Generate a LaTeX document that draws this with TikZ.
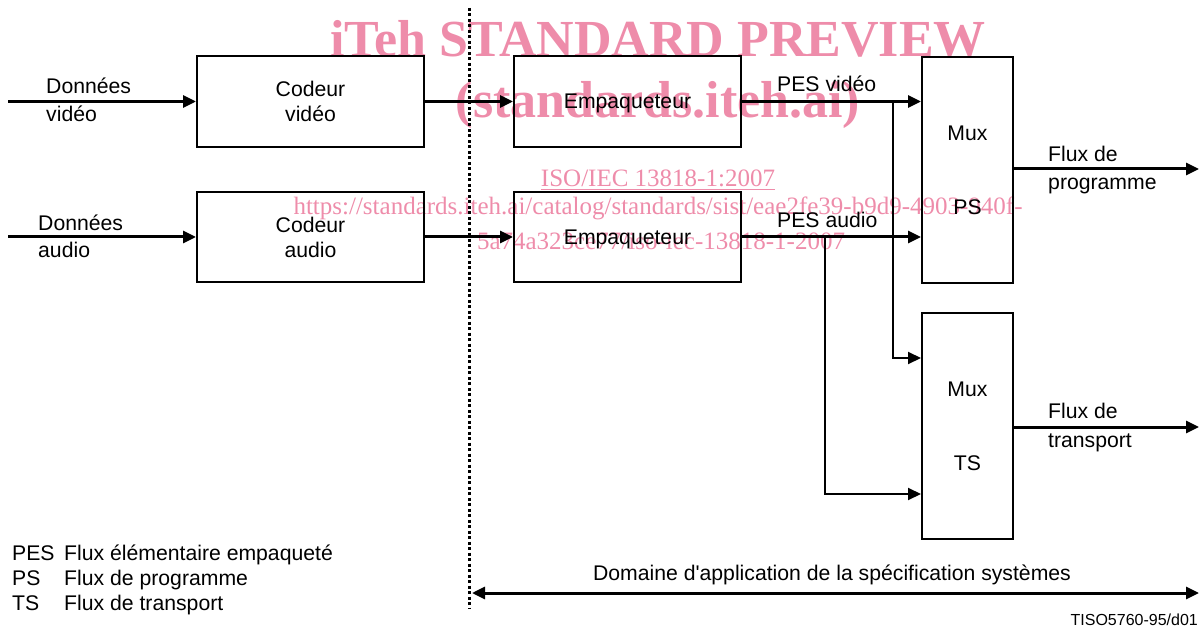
\documentclass[tikz,border=0pt]{standalone}
\usepackage{fontspec}
\setmainfont{Liberation Sans}
\newfontfamily\wmfont{Liberation Serif}
\usetikzlibrary{arrows.meta}
\definecolor{wmpink}{RGB}{238,140,170}
\begin{document}
\begin{tikzpicture}[x=1pt,y=-1pt,
  box/.style={draw,line width=2pt,inner sep=0pt,align=center,font=\fontsize{21.2}{25}\selectfont},
  txt/.style={font=\fontsize{21.2}{25}\selectfont,inner sep=0pt},
  tip/.style={-{Triangle[length=13pt,width=12pt]}},
  conn/.style={line width=3pt,tip},
  thinconn/.style={line width=2pt,tip},
  wm/.style={text=wmpink,inner sep=0pt,anchor=base}]
\useasboundingbox (0,0) rectangle (1204,628);

% watermark
\node[wm,font=\wmfont\bfseries\fontsize{52}{52}\selectfont] (w1) at (658,57) {iTeh STANDARD PREVIEW};
\node[wm,font=\wmfont\bfseries\fontsize{52}{52}\selectfont] (w2) at (658,118) {(standards.iteh.ai)};
\node[wm,font=\wmfont\fontsize{25}{25}\selectfont] (w3) at (658,187) {\underline{ISO/IEC 13818-1:2007}};
\node[wm,font=\wmfont\fontsize{25}{25}\selectfont] (w4) at (658,215) {https://standards.iteh.ai/catalog/standards/sist/eae2fe39-b9d9-4903-940f-};
\node[wm,font=\wmfont\fontsize{25}{25}\selectfont] (w5) at (661,250) {5a74a323ce77/iso-iec-13818-1-2007};

% boxes
\node[box,minimum width=227pt,minimum height=91pt] (cv) at (310.5,101.5) {Codeur\\vidéo};
\node[box,minimum width=227pt,minimum height=90pt] (ca) at (310.5,237) {Codeur\\audio};
\node[box,minimum width=227pt,minimum height=91pt,text depth=0pt] (ev) at (627.5,101.5) {Empaqueteur};
\node[box,minimum width=227pt,minimum height=90pt,text depth=0pt] (ea) at (627.5,237) {Empaqueteur};
\node[box,minimum width=91pt,minimum height=226pt] (mps) at (967.5,170) {Mux\\[49pt]PS};
\node[box,minimum width=91pt,minimum height=226pt] (mts) at (967.5,426) {Mux\\[49pt]TS};

% input labels
\node[txt,anchor=base west] (dv1) at (46,94) {Données};
\node[txt,anchor=base west] (dv2) at (46,122) {vidéo};
\node[txt,anchor=base west] (da1) at (38,231) {Données};
\node[txt,anchor=base west] (da2) at (38,258) {audio};

% connectors
\coordinate (inv) at (8,101.5);
\coordinate (ina) at (8,237);
\draw[conn] (inv) -- (cv.west);
\draw[conn] (ina) -- (ca.west);
\draw[conn] (cv.east) -- (ev.west);
\draw[conn] (ca.east) -- (ea.west);
\draw[conn] (ev.east) -- (ev.east -| mps.west);
\draw[conn] (ea.east) -- (ea.east -| mps.west);
\node[txt,anchor=base west] (pv) at (777,91.5) {PES vidéo};
\node[txt,anchor=base west] (pa) at (777,227.5) {PES audio};

\coordinate (bv) at (893,101.5);
\coordinate (ba) at (825,237);
\draw[thinconn] (bv) |- ([yshift=68pt]mts.west);
\draw[thinconn] (ba) |- ([yshift=-68pt]mts.west);

\coordinate (ops) at (1199,169);
\coordinate (ots) at (1199,427);
\draw[conn] (mps.east |- ops) -- (ops);
\draw[conn] (mts.east |- ots) -- (ots);
\node[txt,anchor=base west] (fp1) at (1048,162) {Flux de};
\node[txt,anchor=base west] (fp2) at (1048,190) {programme};
\node[txt,anchor=base west] (ft1) at (1048,418) {Flux de};
\node[txt,anchor=base west] (ft2) at (1048,447) {transport};

% dotted separator
\coordinate (dt) at (469,8);
\coordinate (db) at (469,608);
\draw[line width=3pt,dash pattern=on 3pt off 2.5pt] (dt) -- (db);

% scope arrow
\coordinate (dl) at (472,593);
\coordinate (dr) at (1199,593);
\draw[line width=3pt,{Triangle[length=13pt,width=12pt]}-{Triangle[length=13pt,width=12pt]}] (dl) -- (dr);
\node[txt,anchor=base] (dom) at (832,580) {Domaine d\textquotesingle application de la spécification systèmes};

% legend
\node[txt,anchor=base west] (l1a) at (12,560) {PES};
\node[txt,anchor=base west] (l1b) at (64,560) {Flux élémentaire empaqueté};
\node[txt,anchor=base west] (l2a) at (12,585) {PS};
\node[txt,anchor=base west] (l2b) at (64,585) {Flux de programme};
\node[txt,anchor=base west] (l3a) at (12,610) {TS};
\node[txt,anchor=base west] (l3b) at (64,610) {Flux de transport};

\node[inner sep=0pt,anchor=base east,font=\fontsize{16}{18}\selectfont] (ref) at (1198,625) {TISO5760-95/d01};
\end{tikzpicture}
\end{document}
